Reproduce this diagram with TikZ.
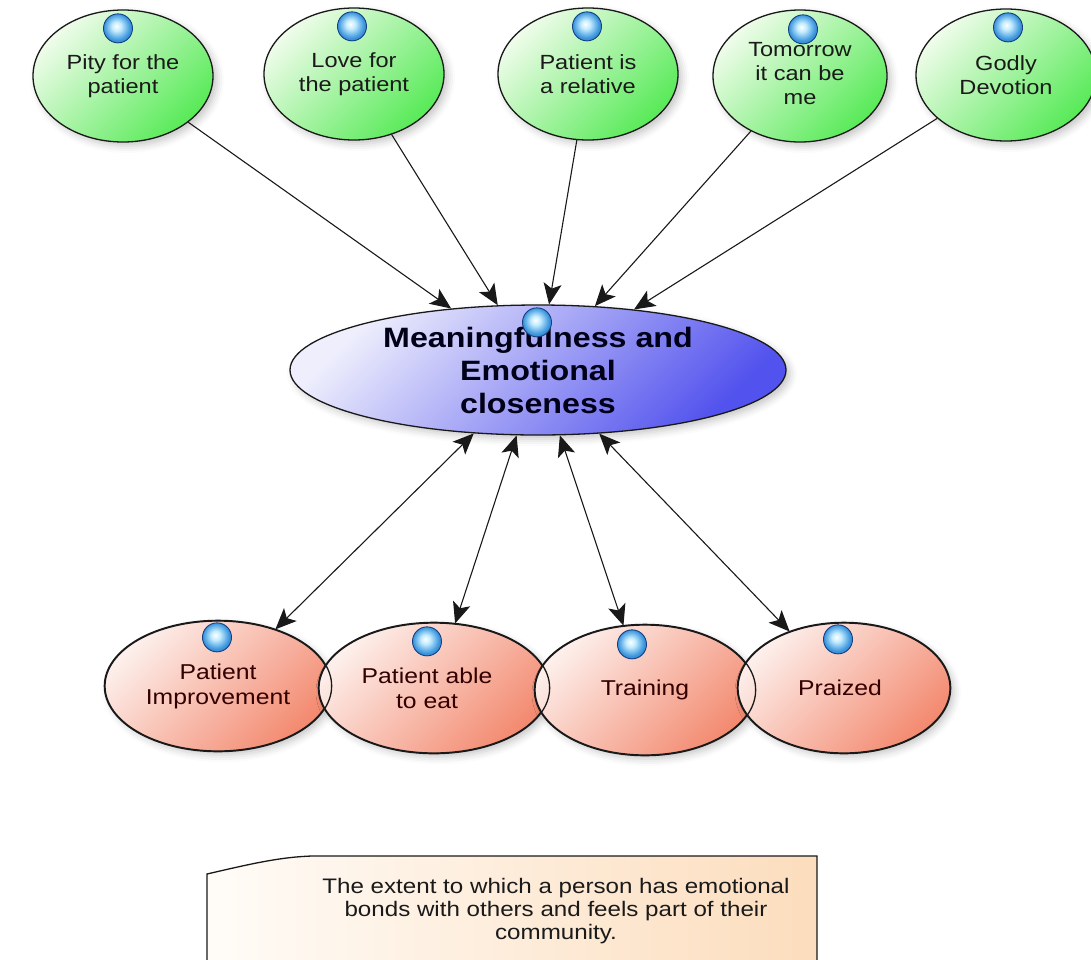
\documentclass[tikz,border=0pt]{standalone}
\usepackage{fontspec}
\setmainfont{Liberation Sans}[FakeStretch=1.15]
\usetikzlibrary{shapes.geometric,arrows.meta,shadows.blur,calc}

\definecolor{greenA}{HTML}{EFFCEA}
\definecolor{greenB}{HTML}{58EA58}
\definecolor{blueA}{HTML}{EEEEFD}
\definecolor{blueB}{HTML}{5252EE}
\definecolor{redA}{HTML}{FDEFEB}
\definecolor{redB}{HTML}{F38A70}
\definecolor{noteA}{HTML}{FFFCF8}
\definecolor{noteB}{HTML}{FCDDBD}
\definecolor{bulbA}{HTML}{C4ECFF}
\definecolor{bulbB}{HTML}{3E98DE}
\definecolor{bulbC}{HTML}{2262B4}
\definecolor{bulbD}{HTML}{163E80}
\definecolor{ink}{HTML}{1A1A1A}

\pgfdeclareradialshading{bulbshade}{\pgfpoint{-3bp}{4bp}}{%
  color(0bp)=(white); color(8bp)=(bulbA); color(22bp)=(bulbB);
  color(36bp)=(bulbC); color(50bp)=(bulbD)}

\tikzset{
  bubble/.style={ellipse, draw=black!90, line width=1.3pt, inner sep=0pt,
    blur shadow={shadow xshift=4pt, shadow yshift=-4pt,
      shadow opacity=22, shadow blur radius=7pt}},
  cause/.style={bubble, top color=greenA, bottom color=greenB, shading angle=45,
    minimum width=180pt, minimum height=132pt},
  core/.style={bubble, top color=blueA, bottom color=blueB, shading angle=45,
    minimum width=496pt, minimum height=130pt},
  effect/.style={bubble, top color=redA, bottom color=redB, shading angle=45,
    minimum height=130pt},
  gtxt/.style={align=center, text=ink, inner sep=0pt,
    font=\fontsize{20.5}{24}\selectfont},
  ctxt/.style={align=center, text=black!90!blue, inner sep=0pt,
    font=\bfseries\fontsize{28}{33}\selectfont},
  rtxt/.style={align=center, text=black!80!red, inner sep=0pt,
    font=\fontsize{21.5}{25}\selectfont},
  ntxt/.style={align=center, text=ink, inner sep=0pt,
    font=\fontsize{21}{23}\selectfont},
  bulb/.style={circle, minimum size=29pt, inner sep=0pt, shade, shading=bulbshade,
    draw=bulbD, line width=0.9pt},
  link/.style={draw=black!90, line width=1.1pt, -{Stealth[length=21pt, width=18pt, inset=5pt]}},
  mutual/.style={draw=black!90, line width=1.1pt,
    {Stealth[length=21pt, width=18pt, inset=5pt]}-{Stealth[length=21pt, width=18pt, inset=5pt]}},
}

\begin{document}
\begin{tikzpicture}[x=1pt, y=-1pt]
\useasboundingbox (0,0) rectangle (1091,959);

% influences (top row)
\node[cause, label={[gtxt, name=tg1]center:{Pity for the\\patient}}] (g1) at (123,76) {};
\node[cause, label={[gtxt, name=tg2]center:{Love for\\the patient}}] (g2) at (354,74) {};
\node[cause, label={[gtxt, name=tg3]center:{Patient is\\a relative}}] (g3) at (588,74) {};
\node[cause, minimum width=174pt, label={[gtxt, name=tg4, yshift=2pt]center:{Tomorrow\\it can be\\me}}] (g4) at (800,76) {};
\node[cause, label={[gtxt, name=tg5]center:{Godly\\Devotion}}] (g5) at (1006,75) {};

% central concept
\node[core, label={[ctxt, name=tc]center:{Meaningfulness and\\Emotional\\closeness}}] (c) at (538,370) {};

% outcomes (bottom row)
\node[effect, minimum width=226pt, label={[rtxt, name=tr1]center:{Patient\\Improvement}}] (r1) at (218,686) {};
\node[effect, minimum width=230pt, label={[rtxt, name=tr2, xshift=-7pt]center:{Patient able\\to eat}}] (r2) at (434,688) {};
\node[effect, minimum width=220pt, label={[rtxt, name=tr3]center:{Training}}] (r3) at (645,690) {};
\node[effect, minimum width=212pt, label={[rtxt, name=tr4, xshift=-4pt]center:{Praized}}] (r4) at (844,688) {};

% outlines of the overlapping outcome ellipses stay visible
\foreach \nd in {r1,r2,r3,r4}
  \draw[draw=black!90, line width=1.3pt]
    let \p1=(\nd.east), \p2=(\nd.north), \p3=(\nd.center) in
    (\p3) ellipse [x radius={\x1-\x3}, y radius={\y2-\y3}];

% status bulbs
\node[bulb] (b1) at ([xshift=-5pt, yshift=-19pt]g1.north) {};
\node[bulb] (b2) at ([xshift=-2pt, yshift=-19pt]g2.north) {};
\node[bulb] (b3) at ([xshift=-1pt, yshift=-19pt]g3.north) {};
\node[bulb] (b4) at ([xshift=3pt, yshift=-20pt]g4.north) {};
\node[bulb] (b5) at ([xshift=2pt, yshift=-19pt]g5.north) {};
\node[bulb] (bc) at ([xshift=-1pt, yshift=-18pt]c.north) {};
\node[bulb] (br1) at ([xshift=-1pt, yshift=-17pt]r1.north) {};
\node[bulb] (br2) at ([xshift=-7pt, yshift=-19pt]r2.north) {};
\node[bulb] (br3) at ([xshift=-13pt, yshift=-20pt]r3.north) {};
\node[bulb] (br4) at ([xshift=-6pt, yshift=-17pt]r4.north) {};

% connectors
\foreach \g in {g1,g2,g3,g4,g5}
  \draw[link] (\g) -- (c);
\foreach \r in {r1,r2,r3,r4}
  \draw[mutual] (c) -- (\r);

% description note
\path[draw=black!90, line width=1.3pt, left color=noteA, right color=noteB]
  (207,874) .. controls (250,864) and (280,857) .. (312,856) -- (817,856)
  -- (817,970) -- (207,970) -- cycle;
\node[ntxt] (note) at (556,911)
  {The extent to which a person has emotional\\
   bonds with others and feels part of their\\
   community.};
\end{tikzpicture}
\end{document}
